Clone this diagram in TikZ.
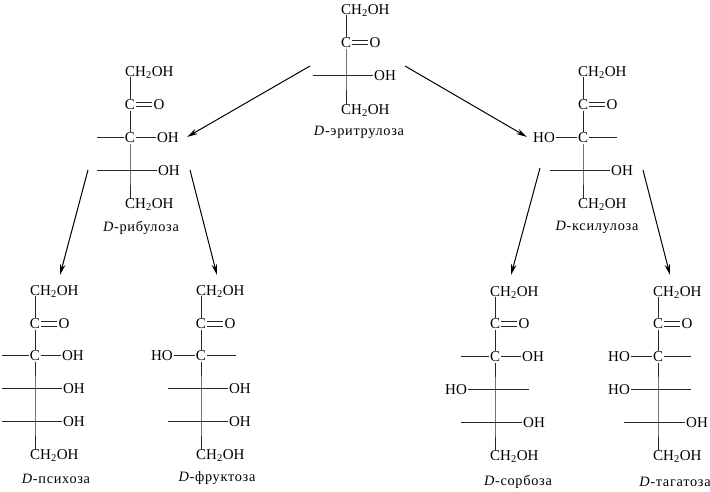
\documentclass[tikz,border=0pt]{standalone}
\usepackage{fontspec}
\setmainfont{Liberation Serif}
\newfontfamily\lblfont[LetterSpace=5]{Liberation Serif}
\usetikzlibrary{arrows.meta}
\tikzset{
  atom/.style={inner sep=1pt,yshift=-0.8pt,font=\fontsize{15}{15}\selectfont,text height=10pt,text depth=0pt},
  group/.style={atom,anchor=base west,inner sep=0pt},
  lbl/.style={inner sep=0pt,yshift=-1.5pt,font=\lblfont\fontsize{14.3}{14.3}\selectfont},
  bond/.style={line width=1pt,black!85},
  rxn/.style={line width=1pt,-{Stealth[length=11pt,width=5.5pt]}},
  free/.style={yshift=-0.8pt}
}
% head of a chain: CH2OH and C=O
\newcommand{\chainhead}[4]{% name, x, y of CH2OH, y of C=O
  \node[group] (#1t) at (#2-5,#3+5) {CH\textsubscript{2}OH};
  \node[atom] (#1c) at (#2,#4) {C};
  \node[atom] (#1o) at (#2+29,#4) {O};
  \draw[bond] (#1t.south -| #1c.north) -- (#1c.north);
  \draw[bond] ([yshift=2.2pt]#1c.east) -- ([yshift=2.2pt]#1o.west);
  \draw[bond] ([yshift=-2.2pt]#1c.east) -- ([yshift=-2.2pt]#1o.west);
}
\newcommand{\chaintail}[3]{% name, x, y
  \node[group] (#1b) at (#2-5,#3+5) {CH\textsubscript{2}OH};
}
% centre as C atom or bare crossing; OH to the right, free bond on the left
\newcommand{\rowCR}[4]{% centre name, x, y, left end
  \node[atom] (#1) at (#2,#3) {C};
  \node[atom] (#1g) at (#2+38,#3) {OH};
  \coordinate[free] (#1f) at (#4,#3);
  \draw[bond] (#1f) -- (#1) -- (#1g);
}
\newcommand{\rowCL}[4]{%
  \node[atom] (#1) at (#2,#3) {C};
  \node[atom] (#1g) at (#2-39,#3) {HO};
  \coordinate[free] (#1f) at (#4,#3);
  \draw[bond] (#1g) -- (#1) -- (#1f);
}
\newcommand{\rowXR}[4]{%
  \coordinate[free] (#1) at (#2,#3);
  \node[atom] (#1g) at (#2+39,#3) {OH};
  \coordinate[free] (#1f) at (#4,#3);
  \draw[bond] (#1f) -- (#1g);
}
\newcommand{\rowXL}[4]{%
  \coordinate[free] (#1) at (#2,#3);
  \node[atom] (#1g) at (#2-39,#3) {HO};
  \coordinate[free] (#1f) at (#4,#3);
  \draw[bond] (#1g) -- (#1f);
}
\begin{document}
\begin{tikzpicture}[x=1pt,y=-1pt]
\useasboundingbox (0,0) rectangle (710,492);
% D-erythrulose
\chainhead{a}{346}{9}{42}
\rowXR{a1}{346}{75}{313}
\chaintail{a}{346}{109}
\draw[bond] (ac) -- (a1) -- (a1 |- ab.north);
\node[lbl] (al) at (359,131) {\textit{D}-эритрулоза};
% D-ribulose
\chainhead{r}{130}{71}{104}
\rowCR{r1}{130}{137}{97}
\rowXR{r2}{130}{170}{97}
\chaintail{r}{130}{203}
\draw[bond] (rc) -- (r1) -- (r2) -- (r2 |- rb.north);
\node[lbl] (rl) at (141,226) {\textit{D}-рибулоза};
% D-xylulose
\chainhead{x}{583}{71}{104}
\rowCL{x1}{583}{137}{617}
\rowXR{x2}{583}{170}{550}
\chaintail{x}{583}{203}
\draw[bond] (xc) -- (x1) -- (x2) -- (x2 |- xb.north);
\node[lbl] (xl) at (597,226) {\textit{D}-ксилулоза};
% D-psicose
\chainhead{p}{35}{290}{323}
\rowCR{p1}{35}{355}{2}
\rowXR{p2}{35}{388}{2}
\rowXR{p3}{35}{421}{2}
\chaintail{p}{35}{454}
\draw[bond] (pc) -- (p1) -- (p2) -- (p3) -- (p3 |- pb.north);
\node[lbl] (pl) at (56,477) {\textit{D}-психоза};
% D-fructose
\chainhead{f}{201}{290}{323}
\rowCL{f1}{201}{355}{236}
\rowXR{f2}{201}{388}{168}
\rowXR{f3}{201}{421}{168}
\chaintail{f}{201}{454}
\draw[bond] (fc) -- (f1) -- (f2) -- (f3) -- (f3 |- fb.north);
\node[lbl] (fl) at (217,477) {\textit{D}-фруктоза};
% D-sorbose
\chainhead{s}{495}{291}{323}
\rowCR{s1}{495}{356}{461}
\rowXL{s2}{495}{389}{529}
\rowXR{s3}{495}{422}{461}
\chaintail{s}{495}{455}
\draw[bond] (sc) -- (s1) -- (s2) -- (s3) -- (s3 |- sb.north);
\node[lbl] (sl) at (518,480) {\textit{D}-сорбоза};
% D-tagatose
\chainhead{g}{658}{291}{323}
\rowCL{g1}{658}{356}{691}
\rowXL{g2}{658}{389}{691}
\rowXR{g3}{658}{422}{624}
\chaintail{g}{658}{455}
\draw[bond] (gc) -- (g1) -- (g2) -- (g3) -- (g3 |- gb.north);
\node[lbl] (gl) at (675,480) {\textit{D}-тагатоза};
% reaction arrows
\coordinate (A1) at (310,66); \coordinate (A2) at (187,137);
\coordinate (B1) at (405,66); \coordinate (B2) at (527,137);
\coordinate (C1) at (88,170); \coordinate (C2) at (60,275);
\coordinate (D1) at (190,170); \coordinate (D2) at (217,275);
\coordinate (E1) at (540,168); \coordinate (E2) at (511,275);
\coordinate (F1) at (643,170); \coordinate (F2) at (670,275);
\draw[rxn] (A1) -- (A2);
\draw[rxn] (B1) -- (B2);
\draw[rxn] (C1) -- (C2);
\draw[rxn] (D1) -- (D2);
\draw[rxn] (E1) -- (E2);
\draw[rxn] (F1) -- (F2);
\end{tikzpicture}
\end{document}
